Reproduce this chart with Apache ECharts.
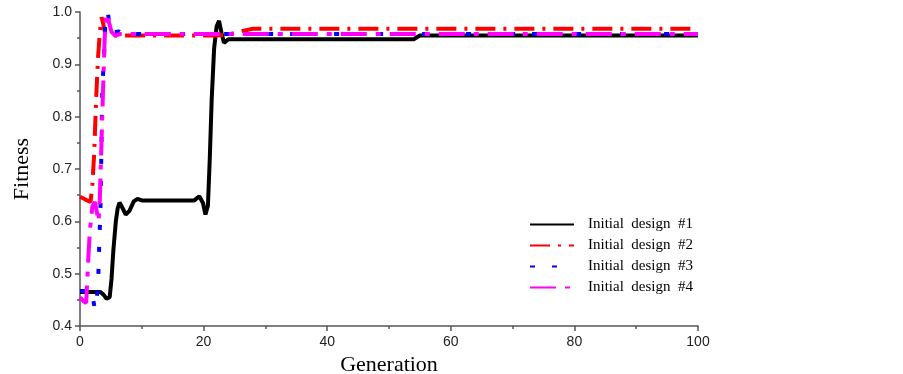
<!DOCTYPE html>
<html>
<head>
<meta charset="utf-8">
<script src="https://cdn.jsdelivr.net/npm/echarts@6/dist/echarts.min.js"></script>
<style>
html,body{margin:0;padding:0;background:#fff;}
#c{width:903px;height:374px;}
</style>
</head>
<body>
<div id="c"></div>
<script>
const seriesNames = ['Initial  design  #1', 'Initial  design  #2', 'Initial  design  #3', 'Initial  design  #4'];
const xTicks = [0, 20, 40, 60, 80, 100];
const yTicks = [0.4, 0.5, 0.6, 0.7, 0.8, 0.9, 1.0];

const design1 = [
  [0,0.465],[3.3,0.465],[3.8,0.46],[4.3,0.452],[4.8,0.455],[5.1,0.49],[5.4,0.545],[5.8,0.6],[6.1,0.625],[6.4,0.636],
  [6.9,0.625],[7.4,0.613],[8.0,0.62],[8.7,0.638],[9.3,0.643],[10,0.64],[18.5,0.64],[19.3,0.648],[19.9,0.635],
  [20.3,0.613],[20.7,0.63],[21.0,0.72],[21.3,0.83],[21.7,0.93],[22.1,0.972],[22.5,0.983],[22.9,0.96],[23.3,0.941],
  [24,0.948],[54,0.948],[55,0.955],[100,0.955]
];
const design2 = [
  [0,0.647],[0.8,0.642],[1.7,0.637],[2.0,0.67],[2.3,0.73],[2.6,0.83],[2.9,0.91],[3.2,0.96],[3.5,0.99],
  [3.8,0.975],[4.1,0.958],[5,0.955],[22,0.955],[24,0.957],[26,0.963],[28,0.968],[100,0.968]
];
const design3 = [
  [0,0.467],[1.9,0.467],[2.4,0.432],[2.9,0.47],[3.1,0.55],[3.3,0.62],[3.4,0.686],[3.5,0.768],[3.6,0.851],
  [3.8,0.896],[3.9,0.92],[4.1,0.982],[4.5,0.999],[4.8,0.975],[5.1,0.96],[5.8,0.962],[6.3,0.963],[7,0.958],[100,0.958]
];
const design4 = [
  [0,0.455],[0.6,0.447],[1.0,0.444],[1.1,0.469],[1.35,0.53],[1.6,0.583],[2.0,0.628],[2.4,0.637],[2.7,0.62],
  [3.0,0.6],[3.2,0.64],[3.4,0.72],[3.6,0.8],[3.8,0.88],[4.0,0.95],[4.2,0.99],[4.4,0.997],[4.7,0.98],
  [5.1,0.962],[5.7,0.955],[6.5,0.958],[100,0.958]
];

const chart = echarts.init(document.getElementById('c'));
const mk = (name, data, color, type, width) => ({
  name, type: 'line', data, symbol: 'none', showSymbol: false, smooth: false,
  lineStyle: { color, width, type, cap: 'butt' }, itemStyle: { color },
  emphasis: { disabled: true }, animation: false
});
chart.setOption({
  animation: false,
  grid: { left: 80, right: 205, top: 12, bottom: 48, containLabel: false, outerBoundsMode: 'none' },
  xAxis: {
    type: 'value', min: 0, max: 100, interval: 20,
    name: 'Generation', nameLocation: 'middle', nameGap: 28,
    nameTextStyle: { fontFamily: 'Liberation Serif', fontSize: 22, color: '#000' },
    axisLine: { show: true, onZero: false, lineStyle: { color: '#555', width: 1.5 } },
    axisTick: { show: true, inside: false, length: 5, lineStyle: { color: '#555', width: 1.5 } },
    minorTick: { show: true, splitNumber: 2, length: 3, lineStyle: { color: '#555', width: 1.5 } },
    splitLine: { show: false },
    axisLabel: { fontFamily: 'Liberation Sans', fontSize: 14, color: '#222', margin: 9 }
  },
  yAxis: {
    type: 'value', min: 0.4, max: 1.0, interval: 0.1,
    name: 'Fitness', nameLocation: 'middle', nameGap: 47,
    nameTextStyle: { fontFamily: 'Liberation Serif', fontSize: 22, color: '#000' },
    axisLine: { show: true, onZero: false, lineStyle: { color: '#555', width: 1.5 } },
    axisTick: { show: true, inside: false, length: 5, lineStyle: { color: '#555', width: 1.5 } },
    minorTick: { show: true, splitNumber: 2, length: 3, lineStyle: { color: '#555', width: 1.5 } },
    splitLine: { show: false },
    axisLabel: { fontFamily: 'Liberation Sans', fontSize: 14, color: '#222', margin: 8,
      formatter: v => v.toFixed(1) }
  },
  legend: {
    orient: 'vertical', left: 524, top: 212, itemGap: 6, itemWidth: 44, itemHeight: 14,
    itemStyle: { opacity: 0 },
    textStyle: { fontFamily: 'Liberation Serif', fontSize: 15, color: '#000', padding: [0, 0, 0, 9] },
    data: seriesNames.map(n => ({ name: n }))
  },
  series: [
    mk(seriesNames[0], design1, '#000000', 'solid', 4),
    mk(seriesNames[1], design2, '#ff0000', [20, 8, 3, 8], 4),
    mk(seriesNames[2], design3, '#0000ff', [5, 17], 4),
    mk(seriesNames[3], design4, '#ff00ff', [26, 9, 5, 9], 4)
  ]
});
</script>
</body>
</html>
